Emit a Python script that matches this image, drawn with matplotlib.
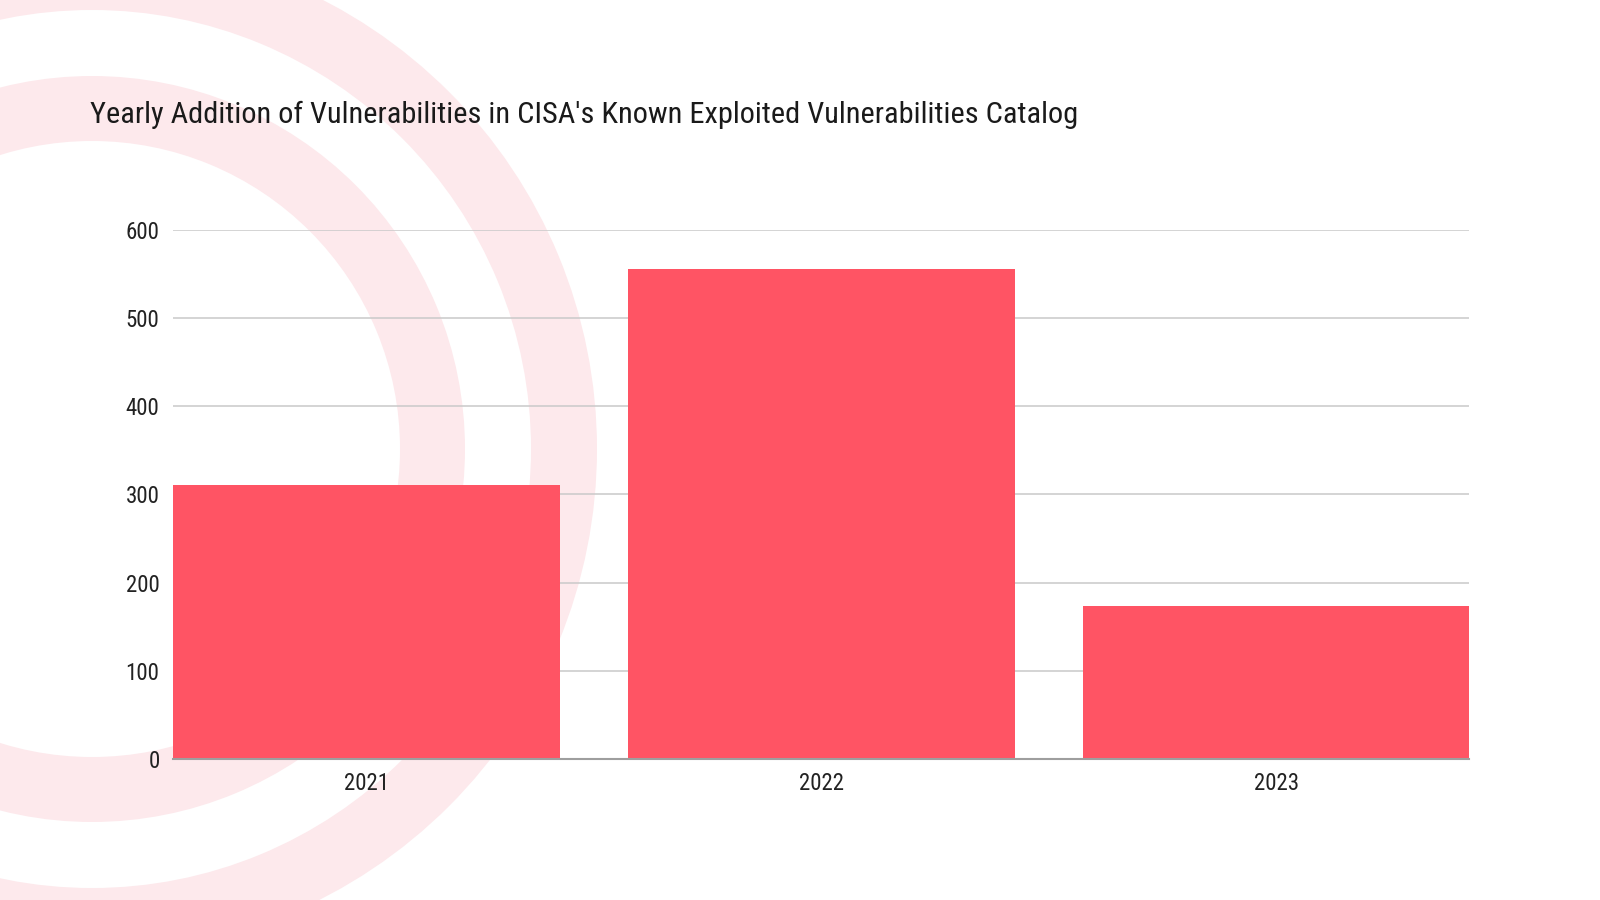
import matplotlib
matplotlib.use("Agg")
import matplotlib.pyplot as plt
from matplotlib import font_manager
from matplotlib.patches import Wedge

years = ["2021", "2022", "2023"]
added = [311, 555, 174]
y_ticks = [0, 100, 200, 300, 400, 500, 600]
title = "Yearly Addition of Vulnerabilities in CISA's Known Exploited Vulnerabilities Catalog"

bar_color = "#FF5464"
ring_color = "#FDE9EC"

# pick a narrow font if one is installed
installed = {f.name for f in font_manager.fontManager.ttflist}
font = "DejaVu Sans"
for name in ["Liberation Sans Narrow", "Roboto Condensed", "Open Sans Condensed", "Noto Sans Display", "Liberation Sans"]:
    if name in installed:
        font = name
        break
plt.rcParams["font.family"] = [font, "DejaVu Sans"]

fig = plt.figure(figsize=(16, 9), dpi=100)
fig.patch.set_facecolor("white")

# background rings, drawn in figure pixel units
bg = fig.add_axes([0, 0, 1, 1], zorder=0)
bg.set_xlim(0, 1600)
bg.set_ylim(900, 0)
bg.axis("off")
for r_in, r_out in [(308, 373), (439, 505)]:
    bg.add_patch(Wedge((92, 449), r_out, 0, 360, width=r_out - r_in,
                       fc=ring_color, ec="none"))

# main chart
ax = fig.add_axes([0.1084, 0.1564, 0.9184 - 0.1084, 0.7449 - 0.1564], zorder=1)
ax.patch.set_alpha(0)
x = range(len(years))
ax.bar(x, added, width=0.85, color=bar_color, zorder=2)
ax.set_xlim(-0.425, len(years) - 1 + 0.425)
ax.set_ylim(0, 600)
ax.set_yticks(y_ticks)
ax.set_xticks(list(x))
ax.set_xticklabels(years)
ax.yaxis.grid(True, color="#c9c9c9", linewidth=1.1, zorder=1)
ax.set_axisbelow(True)
for side in ["top", "right", "left"]:
    ax.spines[side].set_visible(False)
ax.spines["bottom"].set_color("#9e9e9e")
ax.spines["bottom"].set_linewidth(1.5)
ax.spines["bottom"].set_zorder(3)
ax.tick_params(axis="both", length=0, labelsize=16.5, colors="#222222")
ax.tick_params(axis="y", pad=10)
ax.tick_params(axis="x", pad=9)

# title, sized to span about the same width as the reference
t = fig.text(90 / 1600, 1 - 115 / 900, title, fontsize=28, color="#1a1a1a",
             ha="left", va="center")
fig.canvas.draw()
w = t.get_window_extent().width
t.set_fontsize(28 * 985 / w)

fig.savefig("out.png", dpi=100, facecolor="white")
